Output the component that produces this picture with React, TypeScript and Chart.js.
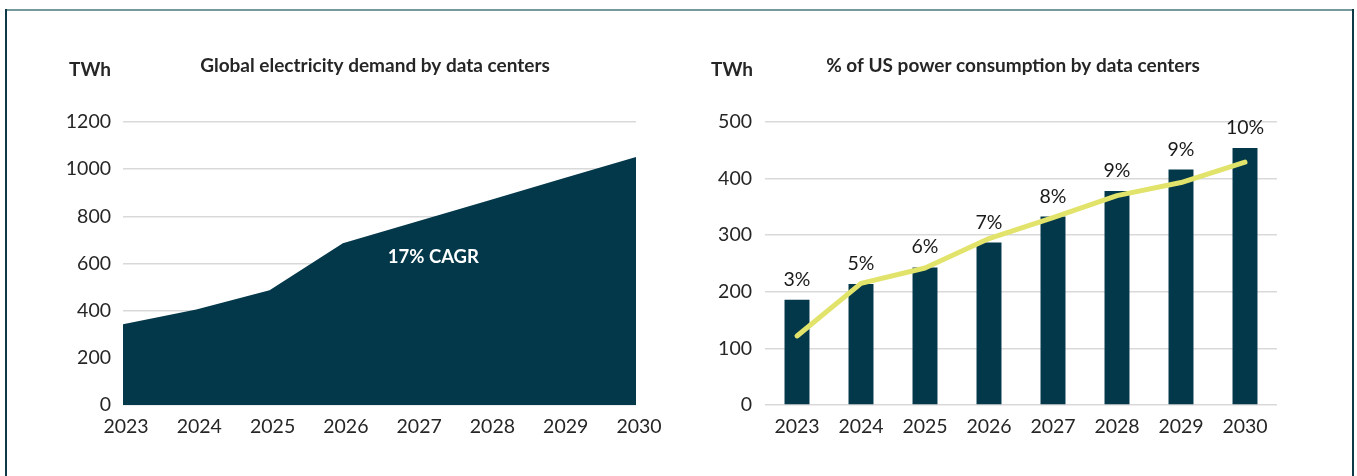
import React, { useEffect, useRef } from 'react';
import { Chart, registerables } from 'chart.js';

Chart.register(...registerables);

// ---- data ----
const years = ['2023', '2024', '2025', '2026', '2027', '2028', '2029', '2030'];
const globalDemand = [342, 405, 487, 686, 777, 868, 960, 1052];
const usDemandBars = [186, 214, 243, 287, 333, 378, 416, 454];
const usShareLine = [122, 215, 242, 294, 331, 370, 393, 429];
const usShareLabels = ['3%', '5%', '6%', '7%', '8%', '9%', '9%', '10%'];
const leftTicks = [0, 200, 400, 600, 800, 1000, 1200];
const rightTicks = [0, 100, 200, 300, 400, 500];

const leftTitle = 'Global electricity demand by data centers';
const rightTitle = '% of US power consumption by data centers';
const unitLabel = 'TWh';
const cagrLabel = '17% CAGR';

// ---- style ----
const FONT = 'Lato, "Open Sans", "DejaVu Sans", sans-serif';
const TEXT = '#262626';
const DARK = '#03384a';
const GRID = '#d9d9d9';
const LINE = '#e1e36b';
const TICK_SIZE = 19.5;

function headerPlugin(title: string, unitX: number, titleX: number) {
  return {
    id: 'header',
    afterDraw(chart: any) {
      const ctx = chart.ctx;
      ctx.save();
      ctx.fillStyle = TEXT;
      ctx.font = `bold 19px ${FONT}`;
      ctx.textBaseline = 'alphabetic';
      ctx.textAlign = 'left';
      ctx.fillText(unitLabel, unitX, 75.5);
      ctx.textAlign = 'center';
      ctx.fillText(title, titleX, 72);
      ctx.restore();
    },
  };
}

const plainTick = (v: any) => String(v);

function LeftChart() {
  const ref = useRef<HTMLCanvasElement | null>(null);
  useEffect(() => {
    if (!ref.current) return;
    const cagrPlugin = {
      id: 'cagr',
      afterDatasetsDraw(chart: any) {
        const { ctx, chartArea } = chart;
        ctx.save();
        ctx.fillStyle = '#ffffff';
        ctx.font = `bold 18.5px ${FONT}`;
        ctx.textAlign = 'center';
        ctx.textBaseline = 'alphabetic';
        ctx.fillText(cagrLabel, chartArea.left + (chartArea.right - chartArea.left) * 0.605, 263);
        ctx.restore();
      },
    };
    const chart = new Chart(ref.current, {
      type: 'line',
      data: {
        labels: years,
        datasets: [
          {
            data: globalDemand,
            fill: 'origin',
            backgroundColor: DARK,
            borderColor: DARK,
            borderWidth: 0,
            pointRadius: 0,
            tension: 0,
          },
        ],
      },
      options: {
        responsive: false,
        animation: false,
        layout: { padding: { top: 122, right: 44, bottom: 0, left: 0 } },
        plugins: { legend: { display: false }, tooltip: { enabled: false } },
        scales: {
          x: {
            offset: false,
            grid: { display: false, drawTicks: false },
            border: { display: false },
            ticks: { font: { family: FONT, size: TICK_SIZE }, color: TEXT, padding: 10, maxRotation: 0, autoSkip: false, labelOffset: 3 },
            afterFit: (s: any) => { s.height = 71; },
          },
          y: {
            min: 0,
            max: 1200,
            afterBuildTicks: (s: any) => { s.ticks = leftTicks.map((v) => ({ value: v })); },
            ticks: { font: { family: FONT, size: TICK_SIZE }, color: TEXT, padding: 12, callback: plainTick },
            grid: { color: GRID, lineWidth: 1.5, drawTicks: false },
            border: { display: false },
            afterFit: (s: any) => { s.width = 123; },
          },
        },
      } as any,
      plugins: [headerPlugin(leftTitle, 69, 375), cagrPlugin],
    });
    return () => chart.destroy();
  }, []);
  return <canvas ref={ref} width={680} height={476} style={{ position: 'absolute', left: 0, top: 0 }} />;
}

function RightChart() {
  const ref = useRef<HTMLCanvasElement | null>(null);
  useEffect(() => {
    if (!ref.current) return;
    const labelPlugin = {
      id: 'barLabels',
      afterDatasetsDraw(chart: any) {
        const { ctx } = chart;
        const meta = chart.getDatasetMeta(0);
        ctx.save();
        ctx.fillStyle = '#1a1a1a';
        ctx.font = `${TICK_SIZE}px ${FONT}`;
        ctx.textAlign = 'center';
        ctx.textBaseline = 'alphabetic';
        meta.data.forEach((bar: any, i: number) => {
          ctx.fillText(usShareLabels[i], bar.x, bar.y - 14);
        });
        ctx.restore();
      },
    };
    const chart = new Chart(ref.current, {
      type: 'bar',
      data: {
        labels: years,
        datasets: [
          {
            type: 'bar',
            data: usDemandBars,
            backgroundColor: DARK,
            barPercentage: 0.39,
            categoryPercentage: 1,
            order: 1,
          },
          {
            type: 'line',
            data: usShareLine,
            borderColor: LINE,
            borderWidth: 5,
            pointRadius: 0,
            tension: 0,
            fill: false,
            borderCapStyle: 'round',
            borderJoinStyle: 'round',
            order: 0,
          },
        ],
      },
      options: {
        responsive: false,
        animation: false,
        layout: { padding: { top: 122, right: 80, bottom: 0, left: 0 } },
        plugins: { legend: { display: false }, tooltip: { enabled: false } },
        scales: {
          x: {
            grid: { display: false, drawTicks: false },
            border: { display: false },
            ticks: { font: { family: FONT, size: TICK_SIZE }, color: TEXT, padding: 10, maxRotation: 0, autoSkip: false },
            afterFit: (s: any) => { s.height = 71; },
          },
          y: {
            min: 0,
            max: 500,
            afterBuildTicks: (s: any) => { s.ticks = rightTicks.map((v) => ({ value: v })); },
            ticks: { font: { family: FONT, size: TICK_SIZE }, color: TEXT, padding: 13, callback: plainTick },
            grid: { color: GRID, lineWidth: 1.5, drawTicks: false },
            border: { display: false },
            afterFit: (s: any) => { s.width = 85; },
          },
        },
      } as any,
      plugins: [headerPlugin(rightTitle, 31, 333), labelPlugin],
    });
    return () => chart.destroy();
  }, []);
  return <canvas ref={ref} width={677} height={476} style={{ position: 'absolute', left: 680, top: 0 }} />;
}

export default function App() {
  return (
    <div style={{ position: 'fixed', left: 0, top: 0, width: 1357, height: 476, background: '#ffffff', overflow: 'hidden' }}>
      <LeftChart />
      <RightChart />
      <div style={{ position: 'absolute', left: 5, top: 9, width: 1349, height: 2, background: '#77999b' }} />
      <div style={{ position: 'absolute', left: 5, top: 9, width: 2, height: 467, background: '#0e3a47' }} />
      <div style={{ position: 'absolute', left: 1352, top: 9, width: 2, height: 467, background: '#0e3a47' }} />
    </div>
  );
}
